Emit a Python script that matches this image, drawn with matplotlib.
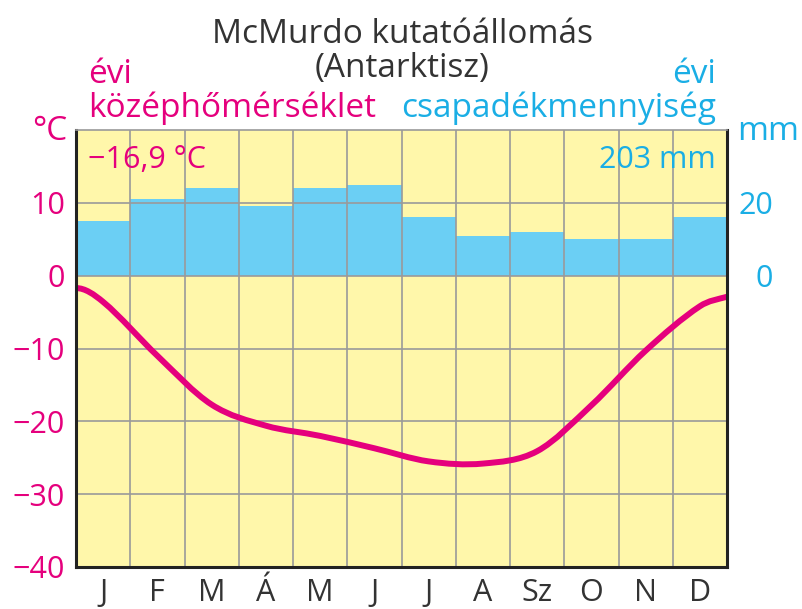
import numpy as np
import matplotlib
matplotlib.use("Agg")
import matplotlib.pyplot as plt
from matplotlib.path import Path
from matplotlib.patches import PathPatch

plt.rcParams['font.family'] = ['Open Sans', 'DejaVu Sans']

months = ['J', 'F', 'M', 'Á', 'M', 'J', 'J', 'A', 'Sz', 'O', 'N', 'D']
temp = [-3.6, -11.0, -17.7, -20.6, -22.0, -23.7, -25.5, -25.8, -24.1, -17.8, -10.3, -4.2]
temp_start = -1.7   # curve value at the left edge
temp_end = -2.9     # curve value at the right edge
precip = [15, 21, 24, 19, 24, 25, 16, 11, 12, 10, 10, 16]
mean_temp_label = '\u221216,9 °C'
total_precip_label = '203 mm'

MAGENTA = '#e5007d'
CYAN = '#1aaee5'
BAR = '#6bcff4'
BG = '#fff7aa'
GRID = '#9a9a9a'
DARK = '#333333'

W, H = 802, 609


def fx(px):
    return px / W


def fy(py):
    return 1 - py / H


fig = plt.figure(figsize=(8.02, 6.09), dpi=100)
ax = fig.add_axes([76 / W, 42 / H, 651 / W, 437 / H])
ax.set_facecolor(BG)
ax.set_xlim(0, 12)
ax.set_ylim(-40, 20)

# precipitation bars: 1 °C on the left axis equals 2 mm
ax.bar(np.arange(12), np.array(precip) / 2.0, width=1.0, align='edge',
       color=BAR, zorder=1)

# grid
for x in range(1, 12):
    ax.axvline(x, color=GRID, lw=1.2, zorder=2)
for y in (-30, -20, -10, 0, 10):
    ax.axhline(y, color=GRID, lw=1.2, zorder=2)

# smooth temperature curve through month centres (cubic Bezier segments)
xs = np.concatenate([[0.0], np.arange(12) + 0.5, [12.0]])
ys = np.concatenate([[temp_start], temp, [temp_end]])
m = np.zeros_like(ys)
m[1:-1] = (ys[2:] - ys[:-2]) / (xs[2:] - xs[:-2])
m[0] = 0.0
m[-1] = (ys[-1] - ys[-2]) / (xs[-1] - xs[-2]) * 0.8
verts = [(xs[0], ys[0])]
codes = [Path.MOVETO]
for i in range(len(xs) - 1):
    h = xs[i + 1] - xs[i]
    verts += [(xs[i] + h / 3, ys[i] + m[i] * h / 3),
              (xs[i + 1] - h / 3, ys[i + 1] - m[i + 1] * h / 3),
              (xs[i + 1], ys[i + 1])]
    codes += [Path.CURVE4] * 3
ax.add_patch(PathPatch(Path(verts, codes), facecolor='none', edgecolor=MAGENTA,
                       lw=4.3, capstyle='butt', zorder=3))

# spines
for side in ('left', 'right', 'bottom'):
    ax.spines[side].set_color('#222222')
    ax.spines[side].set_linewidth(2.2)
ax.spines['top'].set_color(GRID)
ax.spines['top'].set_linewidth(1.2)
for sp in ax.spines.values():
    sp.set_zorder(4)

# axes ticks
ax.set_xticks(np.arange(12) + 0.5)
ax.set_xticklabels(months, fontsize=22, color=DARK)
ax.set_yticks([-40, -30, -20, -10, 0, 10])
ax.set_yticklabels(['\u221240', '\u221230', '\u221220', '\u221210', '0', '10'],
                   fontsize=22, color=MAGENTA)
ax.tick_params(axis='both', length=0)
ax.tick_params(axis='x', pad=8)
ax.tick_params(axis='y', pad=8)

ax2 = ax.twinx()
ax2.set_ylim(-80, 40)
ax2.set_yticks([0, 20])
ax2.set_yticklabels(['0', '20'], fontsize=22, color=CYAN, ha='right')
ax2.tick_params(axis='y', length=0, pad=33)
for sp in ax2.spines.values():
    sp.set_visible(False)

# texts
fs = 24
fig.text(fx(402), fy(43), 'McMurdo kutatóállomás', ha='center', va='baseline',
         fontsize=fs, color=DARK)
fig.text(fx(402), fy(77), '(Antarktisz)', ha='center', va='baseline',
         fontsize=fs, color=DARK)
fig.text(fx(88), fy(83), 'évi', ha='left', va='baseline', fontsize=fs, color=MAGENTA)
fig.text(fx(88), fy(117), 'középhőmérséklet', ha='left', va='baseline',
         fontsize=fs, color=MAGENTA)
fig.text(fx(716), fy(83), 'évi', ha='right', va='baseline', fontsize=fs, color=CYAN)
fig.text(fx(716), fy(117), 'csapadékmennyiség', ha='right', va='baseline',
         fontsize=fs, color=CYAN)
fig.text(fx(67), fy(140), '°C', ha='right', va='baseline', fontsize=fs, color=MAGENTA)
fig.text(fx(737), fy(140), 'mm', ha='left', va='baseline', fontsize=fs, color=CYAN)
fig.text(fx(88), fy(168), mean_temp_label, ha='left', va='baseline',
         fontsize=22, color=MAGENTA, zorder=5)
fig.text(fx(716), fy(168), total_precip_label, ha='right', va='baseline',
         fontsize=22, color=CYAN, zorder=5)

fig.savefig('out.png', dpi=100, facecolor='white')
